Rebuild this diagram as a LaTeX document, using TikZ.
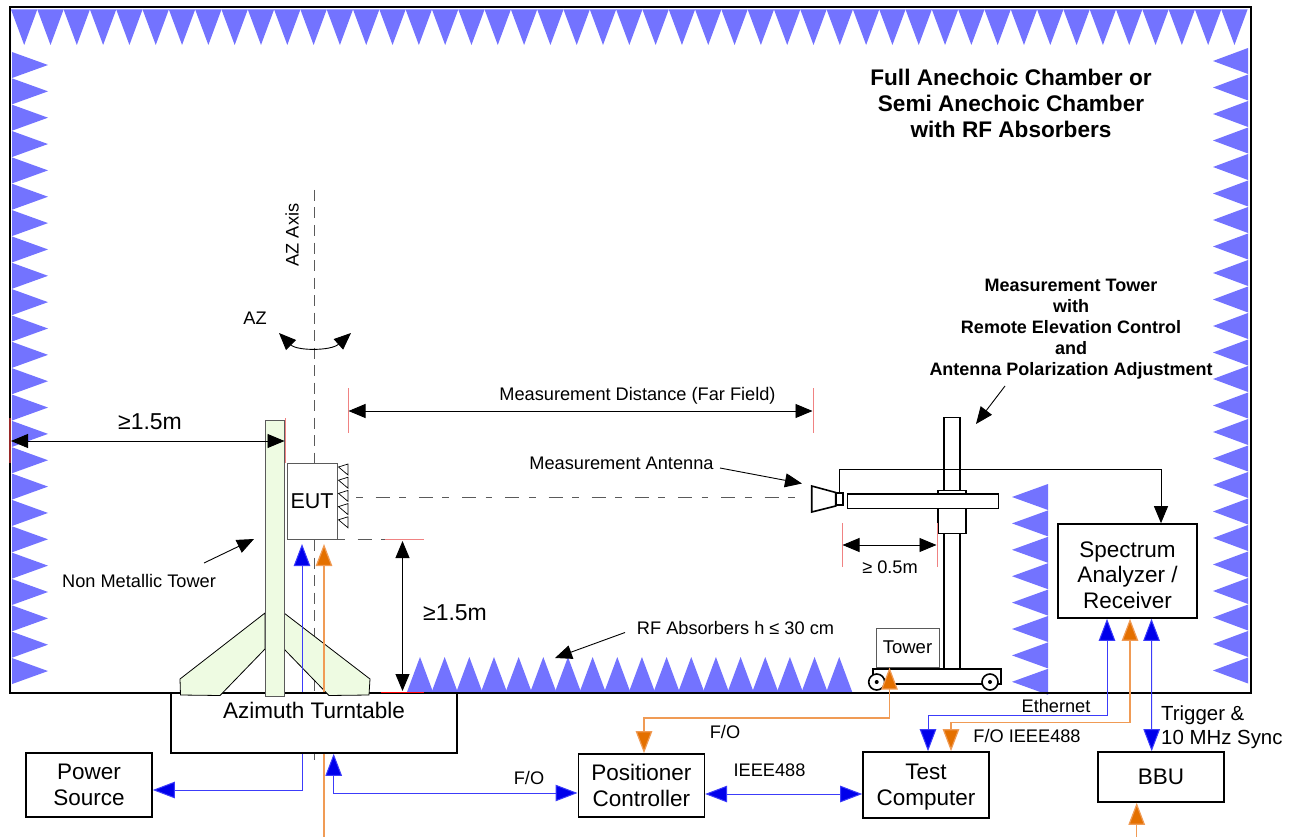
\documentclass[tikz,border=0pt]{standalone}
\usepackage{fontspec}
\setmainfont{Liberation Sans}
\usetikzlibrary{arrows.meta, positioning, calc}
\definecolor{absorberBlue}{RGB}{115,115,255}
\definecolor{feedBlue}{RGB}{60,60,250}
\definecolor{headBlue}{RGB}{0,0,235}
\definecolor{feedOrange}{RGB}{240,155,85}
\definecolor{headOrange}{RGB}{228,112,0}
\definecolor{softGreen}{RGB}{238,251,226}
\definecolor{tickRed}{RGB}{240,130,130}
\definecolor{wallRed}{RGB}{150,40,40}
\definecolor{darkGray}{RGB}{90,90,90}
\tikzset{
    absorber/.style={fill=absorberBlue, draw=none},
    blockbox/.style={
        rectangle,
        draw=black,
        line width=1.6pt,
        fill=white,
        align=center,
        inner sep=0pt,
        font=\fontsize{22.5}{25.5}\selectfont
    },
    thinbox/.style={rectangle, draw=darkGray, line width=1pt, fill=white, inner sep=0pt},
    towerpart/.style={draw=black, line width=1.6pt, fill=white},
    greenpart/.style={draw=black, line width=0.8pt, fill=softGreen},
    smalltext/.style={font=\fontsize{18.2}{22}\selectfont, inner sep=0pt},
    dimtext/.style={font=\fontsize{23}{27}\selectfont, inner sep=0pt},
    titletext/.style={font=\fontsize{22.6}{26}\selectfont\bfseries, align=center, inner sep=0pt},
    towertext/.style={font=\fontsize{18}{21}\selectfont\bfseries, align=center, inner sep=0pt},
    dimarrow/.style={{Triangle[length=17pt,width=14pt]}-{Triangle[length=17pt,width=14pt]}, line width=0.9pt, draw=black},
    pointer/.style={-{Triangle[length=17pt,width=14pt]}, line width=0.9pt, draw=black},
    bluelink/.style={{Triangle[length=22pt,width=16.5pt,fill=headBlue]}-{Triangle[length=22pt,width=16.5pt,fill=headBlue]}, line width=1pt, draw=feedBlue},
    blueend/.style={-{Triangle[length=22pt,width=16.5pt,fill=headBlue]}, line width=1pt, draw=feedBlue},
    orangelink/.style={{Triangle[length=22pt,width=16.5pt,fill=headOrange]}-{Triangle[length=22pt,width=16.5pt,fill=headOrange]}, line width=1.2pt, draw=feedOrange},
    orangeend/.style={-{Triangle[length=22pt,width=16.5pt,fill=headOrange]}, line width=1.2pt, draw=feedOrange},
    redtick/.style={draw=tickRed, line width=1pt},
    axisline/.style={draw=darkGray, line width=1pt, dash pattern=on 11pt off 6.5pt},
    beamline/.style={draw=darkGray, line width=1pt, dash pattern=on 14pt off 9.5pt on 6.7pt off 13pt, dash phase=23.5pt}
}
\begin{document}
\begin{tikzpicture}[x=1pt,y=-1pt]
    \useasboundingbox (0,0) rectangle (1293,837);
    % absorbers
    \foreach \i in {0,...,46}
        \fill[absorber] ({11+\i*26.31},9.5) -- ({37.3+\i*26.31},9.5) -- ({24.2+\i*26.31},45) -- cycle;
    \foreach \i in {0,...,23} {
        \fill[absorber] (12,{52+\i*26.35}) -- (12,{78+\i*26.35}) -- (48,{65+\i*26.35}) -- cycle;
        \fill[absorber] (1248,{48+\i*26.5}) -- (1248,{74+\i*26.5}) -- (1213,{61+\i*26.5}) -- cycle;
    }
    \foreach \i in {0,...,7}
        \fill[absorber] (1048,{484+\i*26.4}) -- (1048,{510+\i*26.4}) -- (1012,{497+\i*26.4}) -- cycle;
    \foreach \i in {0,...,17}
        \fill[absorber] ({407+\i*24.66},692) -- ({433+\i*24.66},692) -- ({420+\i*24.66},657) -- cycle;
    % chamber outline
    \node[draw=black, line width=2pt, minimum width=1241pt, minimum height=686pt, inner sep=0pt] (chamber) at (630,350) {};

    \node[titletext] (chambertext) at (1011,103) {Full Anechoic Chamber or\\Semi Anechoic Chamber\\with RF Absorbers};
    \node[towertext] (towertext) at (1071,329) {Measurement Tower\\with\\Remote Elevation Control\\and\\Antenna Polarization Adjustment};

    % axis and beam lines
    \coordinate (axistop) at (314,190);
    \coordinate (axisbottom) at (314,760);
    \draw[axisline] (axistop) -- (axisbottom);
    \node[smalltext, rotate=90] (axislabel) at (292,235) {AZ Axis};
    \node[smalltext] (azlabel) at (255,318) {AZ};
    \coordinate (azleft) at (279,333);
    \coordinate (azright) at (351,333);
    \draw[dimarrow] (azleft) .. controls (297,351) and (331,351) .. (azright);

    % boxes
    \node[blockbox, minimum width=286pt, minimum height=60pt, label={[yshift=13pt, font=\fontsize{22.5}{25.5}\selectfont]center:Azimuth Turntable}] (turntable) at (314,723) {};
    \node[blockbox, minimum width=126pt, minimum height=64pt] (power) at (89,785) {Power\\Source};
    \node[blockbox, minimum width=126pt, minimum height=63pt] (positioner) at (641.3,785.5) {Positioner\\Controller};
    \node[blockbox, minimum width=126pt, minimum height=66pt] (computer) at (926,785) {\rule{0pt}{20pt}Test\\Computer};
    \node[blockbox, minimum width=126pt, minimum height=50pt] (bbu) at (1161,777) {BBU};
    \node[blockbox, minimum width=139pt, minimum height=94pt] (analyzer) at (1127.5,571) {\rule{0pt}{24pt}Spectrum\\Analyzer /\\Receiver};
    \node[thinbox, minimum width=63pt, minimum height=39pt, font=\fontsize{18.5}{22}\selectfont] (towerbox) at (907.5,647.5) {Tower};
    \node[thinbox, minimum width=50pt, minimum height=76pt, font=\fontsize{21.5}{24}\selectfont] (eut) at (312,501) {EUT};

    % array on the EUT
    \foreach \i in {0,...,4}
        \draw[line width=0.7pt] (348,{464+\i*13.2}) -- (338.5,{467+\i*13.2}) -- (348,{475+\i*13.2}) -- cycle;

    % non metallic tower
    \draw[greenpart] (265,613) -- (180,679) -- (180.5,695) -- (220,695.5) -- (265,649) -- cycle;
    \draw[greenpart] (284,613) -- (370,679) -- (369,695) -- (329,695.5) -- (284,649) -- cycle;
    \node[rectangle, draw=darkGray, line width=1pt, fill=softGreen, minimum width=19pt, minimum height=276pt, inner sep=0pt] (mast) at (274.5,558) {};

    % measurement tower
    \node[towerpart, minimum width=15.5pt, minimum height=251pt, inner sep=0pt] (pole) at (952,543) {};
    \node[towerpart, minimum width=28pt, minimum height=4pt, inner sep=0pt] (topcollar) at (952,492.5) {};
    \node[towerpart, minimum width=28pt, minimum height=25pt, inner sep=0pt] (lowcollar) at (952,521) {};
    \node[towerpart, minimum width=151pt, minimum height=14.5pt, inner sep=0pt] (arm) at (923,501.3) {};
    \node[towerpart, minimum width=128pt, minimum height=15pt, inner sep=0pt] (cart) at (936.7,676.7) {};
    \node[circle, draw=black, line width=1.6pt, fill=white, minimum size=16pt, inner sep=0pt] (wheelleft) at (876.7,682) {};
    \node[circle, draw=black, line width=1.6pt, fill=white, minimum size=16pt, inner sep=0pt] (wheelright) at (990,682) {};
    \fill (wheelleft) circle (2pt);
    \fill (wheelright) circle (2pt);
    \draw[towerpart] (811.7,486) -- (811.7,512) -- (835.7,506) -- (835.7,492.5) -- cycle;
    \node[towerpart, minimum width=7pt, minimum height=12.5pt, inner sep=0pt] (horn) at (839.3,499) {};

    % beam
    \coordinate (beamleft) at (356,497.5);
    \coordinate (beamright) at (795,497.5);
    \draw[beamline] (beamleft) -- (beamright);
    \coordinate (eutcorner) at (338,539.5);
    \coordinate (eutfloor) at (385,539.5);
    \draw[beamline] (eutcorner) -- (eutfloor);

    % red ticks
    \coordinate (tA) at (285,418); \coordinate (tB) at (285,463);
    \coordinate (tC) at (348,388); \coordinate (tD) at (348,433);
    \coordinate (tE) at (813,388); \coordinate (tF) at (813,433);
    \coordinate (tG) at (9.5,418); \coordinate (tH) at (9.5,463);
    \coordinate (tI) at (424,539.5);
    \coordinate (tJ) at (381,692); \coordinate (tK) at (424,692);
    \coordinate (tL) at (842,523); \coordinate (tM) at (842,567);
    \coordinate (tN) at (937,523); \coordinate (tO) at (937,567);
    \draw[redtick] (tA) -- (tB);
    \draw[redtick] (tC) -- (tD);
    \draw[redtick] (tE) -- (tF);
    \draw[draw=wallRed, line width=2pt] (tG) -- (tH);
    \draw[redtick] (eutfloor) -- (tI);
    \draw[red, line width=1pt] (tJ) -- (tK);
    \draw[redtick] (tL) -- (tM);
    \draw[redtick] (tN) -- (tO);

    % dimensions
    \coordinate (leftA) at (11,441);
    \coordinate (leftB) at (284.5,441);
    \draw[dimarrow] (leftA) -- (leftB);
    \node[dimtext] (leftlabel) at (150,422) {≥1.5m};
    \coordinate (distA) at (348.5,411);
    \coordinate (distB) at (812.5,411);
    \draw[dimarrow] (distA) -- (distB);
    \node[smalltext] (distlabel) at (637.5,396) {Measurement Distance (Far Field)};
    \coordinate (heightA) at (402.5,541);
    \coordinate (heightB) at (402.5,691);
    \draw[dimarrow] (heightA) -- (heightB);
    \node[dimtext] (heightlabel) at (455,613) {≥1.5m};
    \coordinate (armA) at (842.5,545);
    \coordinate (armB) at (936.5,545);
    \draw[dimarrow] (armA) -- (armB);
    \node[smalltext] (armlabel) at (890,567) {≥ 0.5m};

    % pointers with their labels
    \node[smalltext] (nonmetal) at (139,581) {Non Metallic Tower};
    \coordinate (nonmetalA) at (204,563);
    \coordinate (nonmetalB) at (254,539);
    \draw[pointer] (nonmetalA) -- (nonmetalB);
    \node[smalltext] (antennalabel) at (621.5,463) {Measurement Antenna};
    \coordinate (antennaA) at (720,468);
    \coordinate (antennaB) at (802,483.5);
    \draw[pointer] (antennaA) -- (antennaB);
    \node[smalltext] (floorlabel) at (735.5,628) {RF Absorbers h ≤ 30 cm};
    \coordinate (floorA) at (625,632.5);
    \coordinate (floorB) at (555,658);
    \draw[pointer] (floorA) -- (floorB);
    \coordinate (towerA) at (1005,386);
    \coordinate (towerB) at (976,424);
    \draw[pointer] (towerA) -- (towerB);

    % signal links
    \coordinate (eutblue) at (302,544);
    \coordinate (eutorange) at (324,544);
    \draw[blueend] ([xshift=-12pt]turntable.north) -- (eutblue);
    \draw[orangeend] ([xshift=10pt]turntable.north) -- (eutorange);
    \draw[blueend] ([xshift=-12pt]turntable.south) |- ([yshift=-5pt]power.east);
    \coordinate (feedend) at (324,837);
    \draw[line width=1.2pt, draw=feedOrange] ([xshift=10pt]turntable.south) -- (feedend);
    \draw[bluelink] ([xshift=19.7pt]turntable.south) |- ([yshift=-7.5pt]positioner.west);
    \draw[bluelink] ([yshift=-8.5pt]positioner.east) -- ([yshift=-9pt]computer.west);
    \draw[orangelink] ([xshift=2.7pt]positioner.north) |- (889.5,718) -- ([xshift=-18pt]towerbox.south);
    \draw[bluelink] ([xshift=2pt]computer.north) |- (1107,715) -- ([xshift=-20.5pt]analyzer.south);
    \draw[orangelink] ([xshift=25pt]computer.north) |- (1130,722.5) -- ([xshift=2.5pt]analyzer.south);
    \draw[bluelink] (bbu.north -| 1151.7,0) -- ([xshift=24pt]analyzer.south);
    \coordinate (bbufeed) at (1136.7,837);
    \draw[orangeend] (bbufeed) -- (bbu.south -| bbufeed);
    \draw[pointer] (horn.north) |- (1161,469.3) -- (analyzer.north -| 1161,0);

    % link labels
    \node[smalltext] (folabelA) at (725,732) {F/O};
    \node[smalltext] (folabelB) at (529,778) {F/O};
    \node[smalltext] (ieeelabel) at (769.5,770.5) {IEEE488};
    \node[smalltext] (ethlabel) at (1056,706) {Ethernet};
    \node[smalltext] (foieee) at (1027,736) {F/O IEEE488};
    \node[font=\fontsize{20.4}{24}\selectfont, inner sep=0pt, align=left, anchor=west] (synclabel) at (1161,727) {Trigger \&\\10 MHz Sync};
\end{tikzpicture}
\end{document}
